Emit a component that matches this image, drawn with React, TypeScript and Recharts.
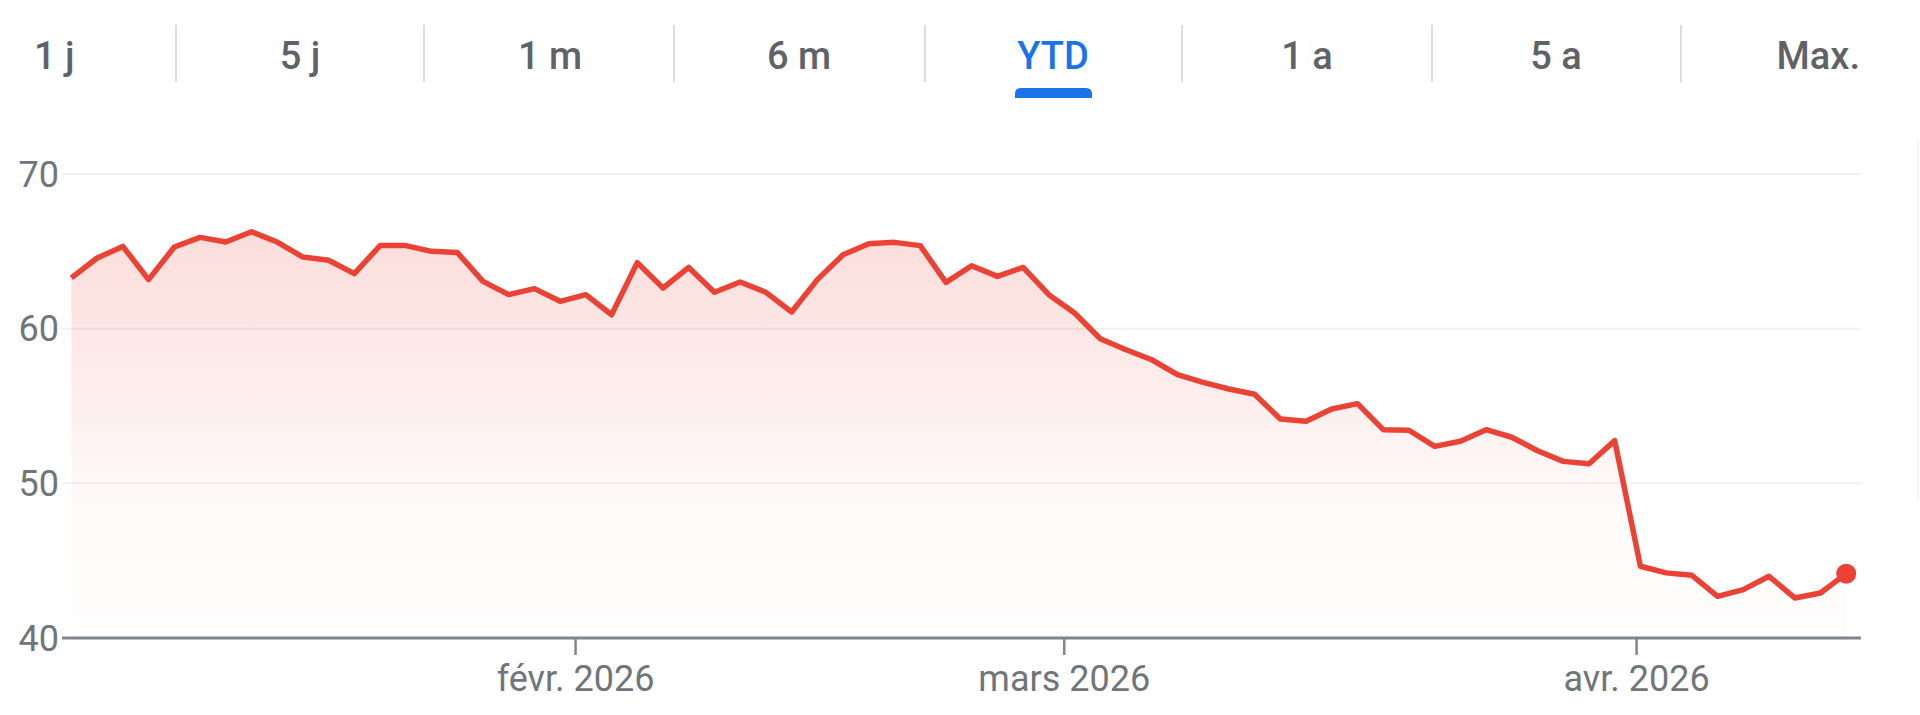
import React from 'react';
import { ComposedChart, Area, XAxis, YAxis, CartesianGrid } from 'recharts';

// Trading days (YTD 2026)
const dates: string[] = [
  '2026-01-02','2026-01-05','2026-01-06','2026-01-07','2026-01-08','2026-01-09','2026-01-12','2026-01-13','2026-01-14','2026-01-15',
  '2026-01-16','2026-01-20','2026-01-21','2026-01-22','2026-01-23','2026-01-26','2026-01-27','2026-01-28','2026-01-29','2026-01-30',
  '2026-02-02','2026-02-03','2026-02-04','2026-02-05','2026-02-06','2026-02-09','2026-02-10','2026-02-11','2026-02-12','2026-02-13',
  '2026-02-17','2026-02-18','2026-02-19','2026-02-20','2026-02-23','2026-02-24','2026-02-25','2026-02-26','2026-02-27',
  '2026-03-02','2026-03-03','2026-03-04','2026-03-05','2026-03-06','2026-03-09','2026-03-10','2026-03-11','2026-03-12','2026-03-13',
  '2026-03-16','2026-03-17','2026-03-18','2026-03-19','2026-03-20','2026-03-23','2026-03-24','2026-03-25','2026-03-26','2026-03-27',
  '2026-03-30','2026-03-31',
  '2026-04-01','2026-04-02','2026-04-06','2026-04-07','2026-04-08','2026-04-09','2026-04-10','2026-04-13','2026-04-14',
];

const prices: number[] = [
  63.28, 64.57, 65.32, 63.17, 65.28, 65.90, 65.60, 66.27, 65.60, 64.63,
  64.42, 63.56, 65.37, 65.37, 65.00, 64.93, 63.06, 62.20, 62.59, 61.77,
  62.20, 60.90, 64.27, 62.63, 63.96, 62.35, 63.02, 62.35, 61.08, 63.17,
  64.78, 65.49, 65.58, 65.37, 62.99, 64.07, 63.38, 63.96, 62.20,
  61.01, 59.35, 58.64, 57.99, 57.03, 56.53, 56.10, 55.76, 54.16, 54.01,
  54.81, 55.15, 53.47, 53.43, 52.39, 52.72, 53.47, 52.98, 52.11, 51.42,
  51.27, 52.76,
  44.64, 44.21, 44.05, 42.69, 43.13, 43.99, 42.59, 42.91, 44.16,
];

// Month boundary ticks (position in trading-day index space)
const xTickValues: number[] = [19.6, 38.6, 60.85];
const xTickLabels: string[] = ['févr. 2026', 'mars 2026', 'avr. 2026'];

const yTicks: number[] = [40, 50, 60, 70];

const tabs: string[] = ['1 j', '5 j', '1 m', '6 m', 'YTD', '1 a', '5 a', 'Max.'];
const activeTab = 'YTD';

const data = prices.map((price, i) => ({ i, date: dates[i], price }));
const lastIndex = data.length - 1;

const RED = '#ea4335';
const FONT = 'Roboto, "Noto Sans", Arial, sans-serif';

const tabX = [34, 300, 550, 799, 1053, 1307, 1556, 1860];
const sepX = [176, 424, 674, 925, 1182, 1432, 1681];

function Tabs() {
  return (
    <svg width={1920} height={110} style={{ position: 'absolute', left: 0, top: 0 }}>
      {sepX.map((x) => (
        <line key={x} x1={x} x2={x} y1={25} y2={82} stroke="#dadce0" strokeWidth={2} />
      ))}
      {tabs.map((t, k) => {
        const anchor = k === 0 ? 'start' : k === tabs.length - 1 ? 'end' : 'middle';
        const active = t === activeTab;
        return (
          <text
            key={t}
            x={tabX[k]}
            y={69}
            textAnchor={anchor}
            fontFamily={FONT}
            fontWeight={500}
            fontSize={38}
            fill={active ? '#1a73e8' : '#5f6368'}
          >
            {t}
          </text>
        );
      })}
      <path d="M1015,98 L1015,94 Q1015,88 1021,88 L1086,88 Q1092,88 1092,94 L1092,98 Z" fill="#1a73e8" />
    </svg>
  );
}

const renderDot = (props: any) => {
  const { cx, cy, index } = props;
  if (index !== lastIndex) return <g key={`d${index}`} />;
  return <circle key={`d${index}`} cx={cx} cy={cy} r={10} fill={RED} />;
};

export default function App() {
  return (
    <div style={{ position: 'absolute', left: 0, top: 0, width: 1920, height: 715, background: '#fff', overflow: 'hidden' }}>
      <Tabs />
      <div style={{ position: 'absolute', left: 1917, top: 140, width: 2, height: 360, background: '#f3f3f3' }} />
      <div style={{ position: 'absolute', left: 0, top: 0 }}>
        <ComposedChart width={1920} height={715} data={data} margin={{ top: 174, right: 59, left: 0, bottom: 0 }}>
          <defs>
            <linearGradient id="fillRed" x1="0" y1="0" x2="0" y2="1">
              <stop offset="0%" stopColor={RED} stopOpacity={0.3} />
              <stop offset="35%" stopColor={RED} stopOpacity={0.17} />
              <stop offset="65%" stopColor={RED} stopOpacity={0.05} />
              <stop offset="100%" stopColor={RED} stopOpacity={0.015} />
            </linearGradient>
          </defs>
          <CartesianGrid horizontal vertical={false} stroke="#f1f1f1" strokeWidth={2} />
          <XAxis
            dataKey="i"
            type="number"
            domain={[0, lastIndex]}
            padding={{ left: 9.4, right: 14.8 }}
            ticks={xTickValues}
            tickFormatter={(v: number) => xTickLabels[xTickValues.indexOf(v)] ?? ''}
            interval={0}
            height={77}
            axisLine={{ stroke: '#80868b', strokeWidth: 3 }}
            tickLine={{ stroke: '#80868b', strokeWidth: 2.5 }}
            tickSize={17}
            tickMargin={10}
            tick={{ fill: '#70757a', fontSize: 36, fontFamily: FONT }}
            allowDecimals
          />
          <YAxis
            domain={[40, 70]}
            ticks={yTicks}
            width={62}
            axisLine={false}
            tickLine={false}
            tickSize={0}
            tickMargin={3}
            tick={{ fill: '#70757a', fontSize: 36, fontFamily: FONT }}
            allowDataOverflow
          />
          <Area
            type="linear"
            dataKey="price"
            stroke={RED}
            strokeWidth={5.5}
            strokeLinejoin="round"
            fill="url(#fillRed)"
            baseValue={40}
            dot={renderDot}
            activeDot={false}
            isAnimationActive={false}
          />
        </ComposedChart>
      </div>
    </div>
  );
}
